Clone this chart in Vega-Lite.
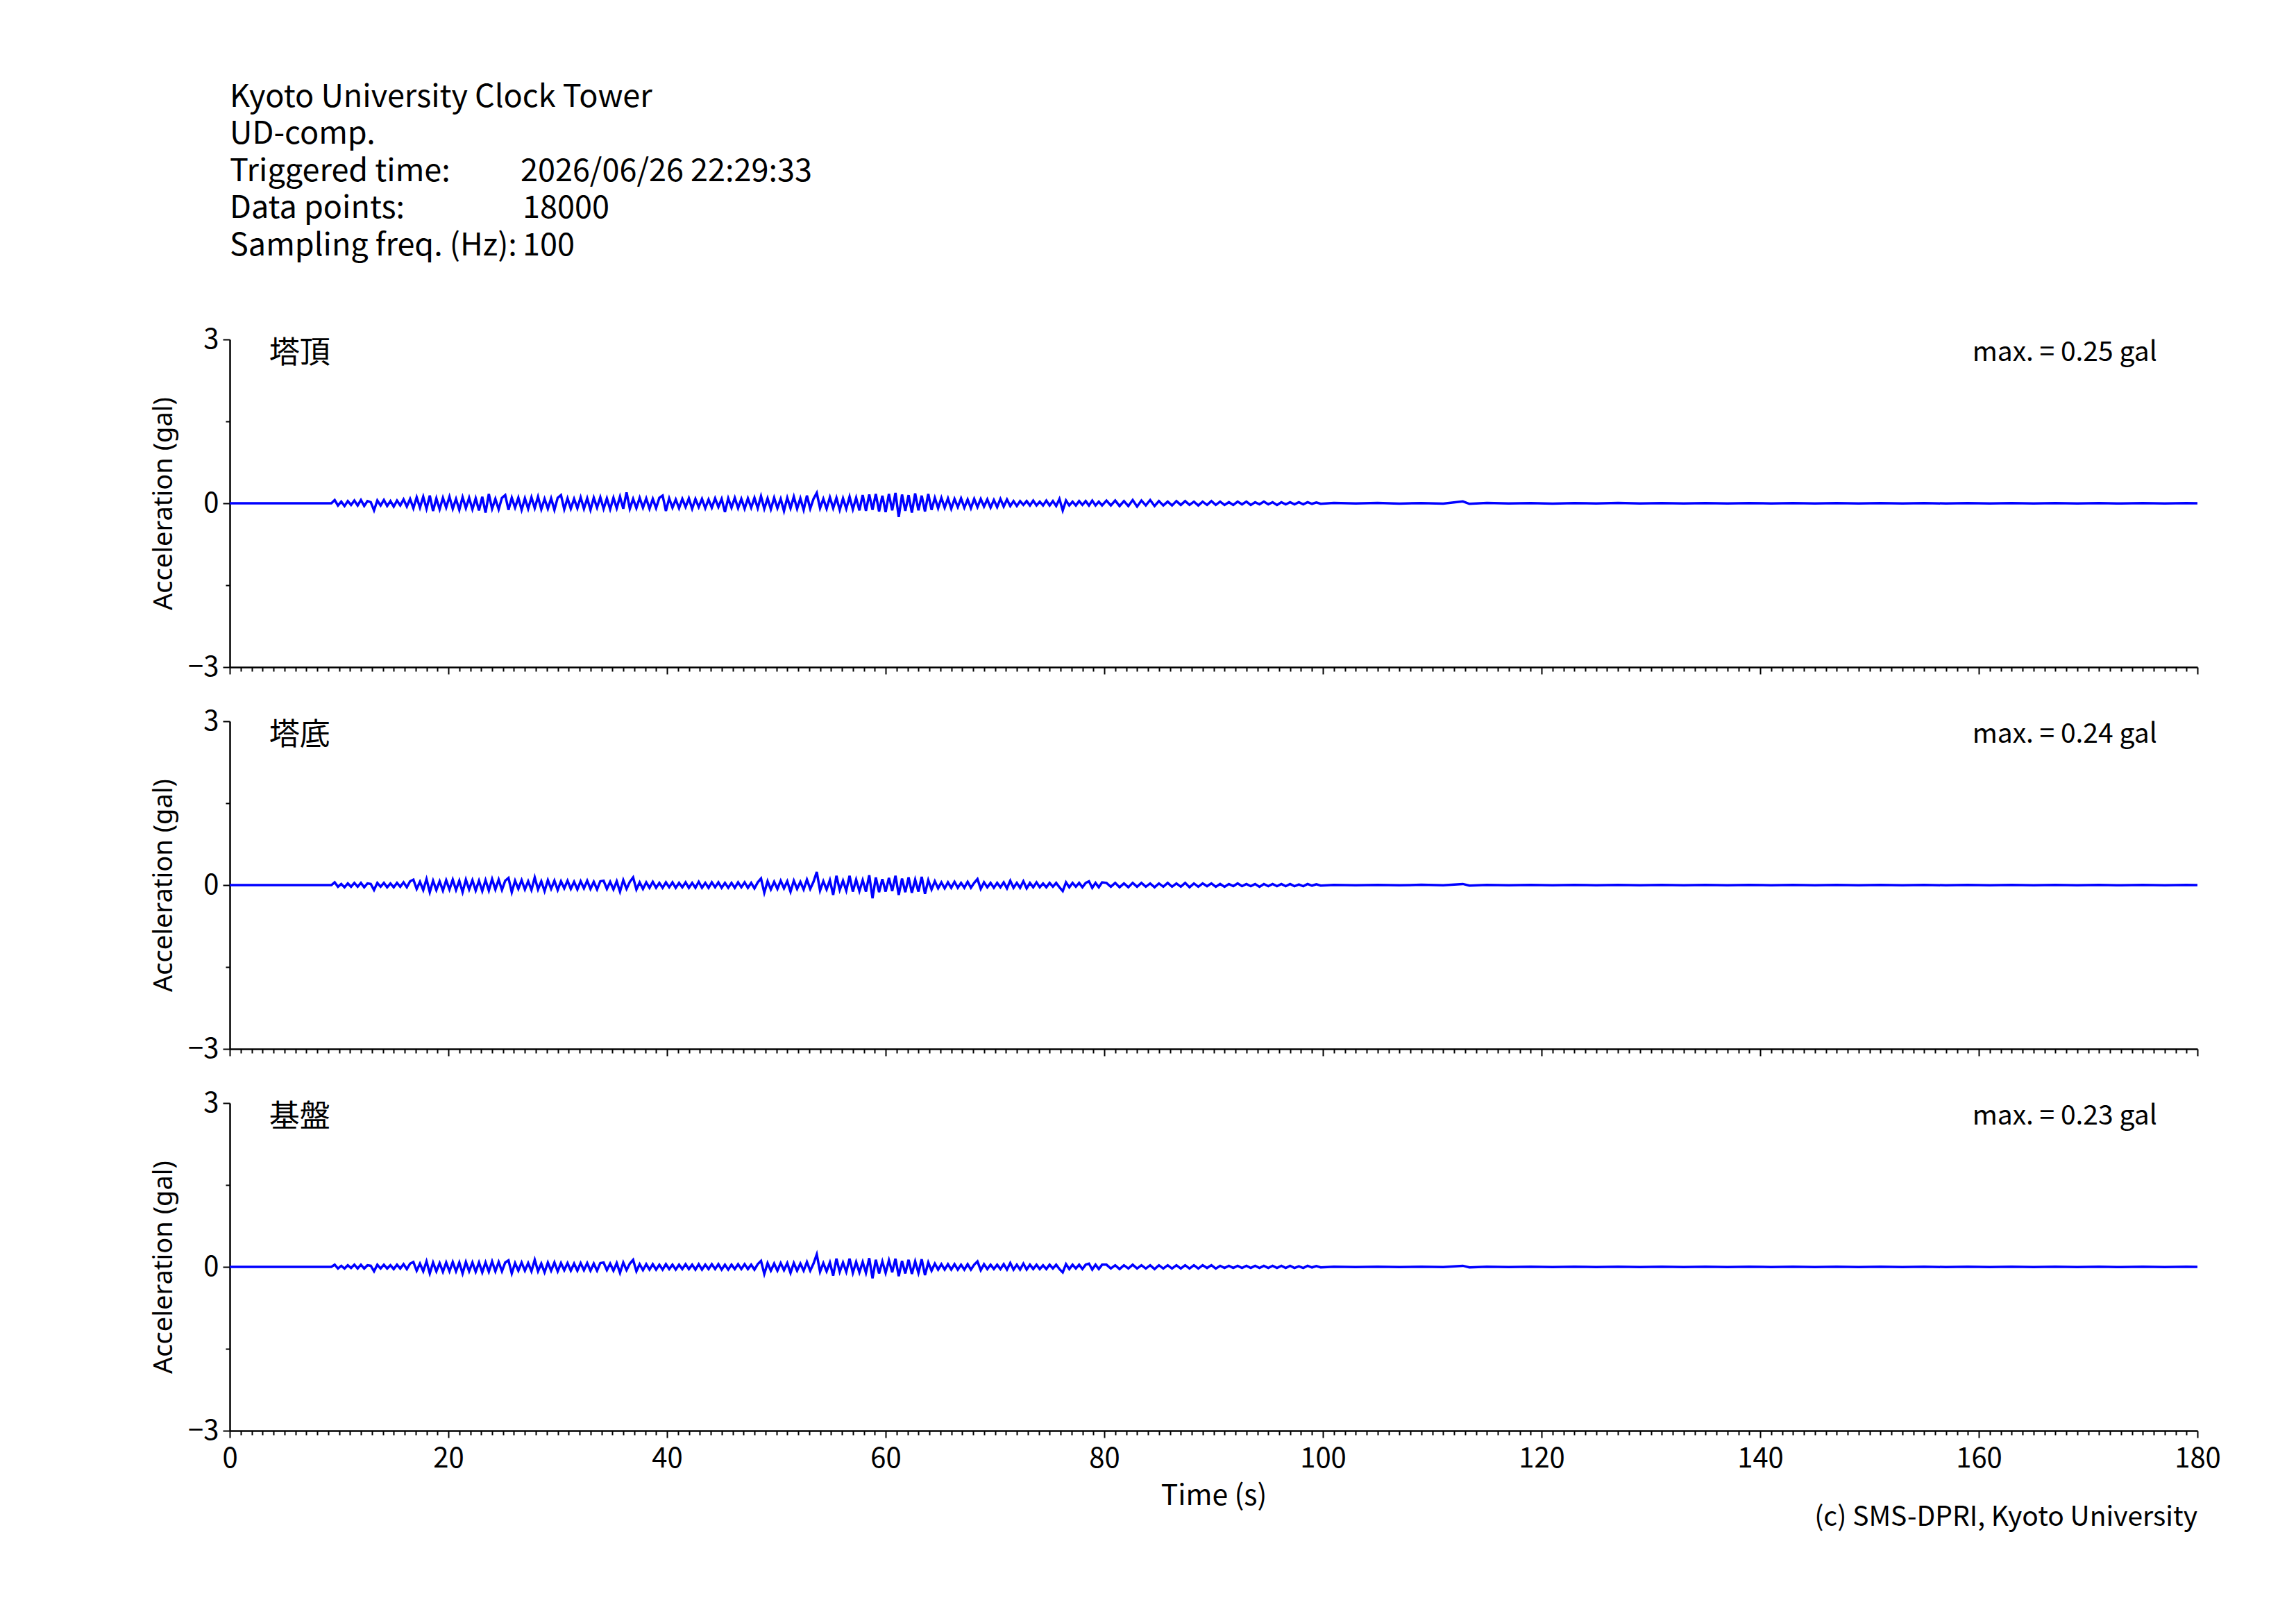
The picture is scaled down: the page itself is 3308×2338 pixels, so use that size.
{
"$schema": "https://vega.github.io/schema/vega-lite/v6.json",
"background": "white",
"padding": {"left": 217, "top": 10, "right": 20, "bottom": 10},
"bounds": "flush",
"spacing": 78,
"config": {
  "view": {"stroke": "transparent"},
  "font": "Noto Sans CJK JP",
  "axis": {"grid": false, "domainColor": "black", "domainWidth": 2.5, "tickColor": "black", "tickWidth": 2, "labelColor": "black", "labelFont": "Noto Sans CJK JP", "labelFontSize": 40, "titleFont": "Noto Sans CJK JP", "titleFontSize": 41, "titleColor": "black", "titleFontWeight": "normal", "labelOverlap": false, "labelFlush": false}
},
"datasets": {
"w": [
{"t":0,"a":0,"b":0,"c":0},
{"t":9.3,"a":0,"b":0,"c":0},
{"t":9.6,"a":0.06,"b":0.05,"c":0.04},
{"t":9.9,"a":-0.04,"b":-0.03,"c":-0.03},
{"t":10.2,"a":0.03,"b":0.02,"c":0.02},
{"t":10.5,"a":-0.05,"b":-0.04,"c":-0.03},
{"t":10.8,"a":0.04,"b":0.03,"c":0.03},
{"t":11.1,"a":-0.03,"b":-0.03,"c":-0.02},
{"t":11.4,"a":0.05,"b":0.04,"c":0.04},
{"t":11.7,"a":-0.04,"b":-0.03,"c":-0.03},
{"t":12.0,"a":0.06,"b":0.04,"c":0.04},
{"t":12.3,"a":-0.05,"b":-0.04,"c":-0.03},
{"t":12.6,"a":0.04,"b":0.03,"c":0.03},
{"t":12.9,"a":0.02,"b":0.02,"c":0.02},
{"t":13.2,"a":-0.13,"b":-0.09,"c":-0.08},
{"t":13.5,"a":0.05,"b":0.04,"c":0.04},
{"t":13.8,"a":-0.04,"b":-0.03,"c":-0.03},
{"t":14.1,"a":0.06,"b":0.04,"c":0.04},
{"t":14.4,"a":-0.05,"b":-0.04,"c":-0.03},
{"t":14.7,"a":0.04,"b":0.03,"c":0.03},
{"t":15.0,"a":-0.06,"b":-0.04,"c":-0.04},
{"t":15.3,"a":0.05,"b":0.04,"c":0.04},
{"t":15.6,"a":-0.04,"b":-0.03,"c":-0.03},
{"t":15.9,"a":0.07,"b":0.05,"c":0.05},
{"t":16.2,"a":-0.06,"b":-0.04,"c":-0.04},
{"t":16.5,"a":0.08,"b":0.07,"c":0.06},
{"t":16.8,"a":-0.09,"b":0.1,"c":0.09},
{"t":17.1,"a":0.11,"b":-0.07,"c":-0.07},
{"t":17.4,"a":-0.08,"b":0.06,"c":0.06},
{"t":17.7,"a":0.12,"b":-0.09,"c":-0.08},
{"t":18.0,"a":-0.1,"b":0.11,"c":0.1},
{"t":18.3,"a":0.14,"b":-0.13,"c":-0.12},
{"t":18.6,"a":-0.14,"b":0.08,"c":0.08},
{"t":18.9,"a":0.09,"b":-0.09,"c":-0.08},
{"t":19.2,"a":-0.11,"b":0.07,"c":0.07},
{"t":19.5,"a":0.1,"b":-0.1,"c":-0.09},
{"t":19.8,"a":-0.08,"b":0.09,"c":0.08},
{"t":20.1,"a":0.12,"b":-0.08,"c":-0.08},
{"t":20.4,"a":-0.1,"b":0.1,"c":0.09},
{"t":20.7,"a":0.08,"b":-0.09,"c":-0.08},
{"t":21.0,"a":-0.12,"b":0.08,"c":0.08},
{"t":21.3,"a":0.11,"b":-0.13,"c":-0.12},
{"t":21.6,"a":-0.09,"b":0.1,"c":0.09},
{"t":21.9,"a":0.1,"b":-0.08,"c":-0.08},
{"t":22.2,"a":-0.11,"b":0.09,"c":0.08},
{"t":22.5,"a":0.09,"b":-0.1,"c":-0.09},
{"t":22.8,"a":-0.13,"b":0.08,"c":0.08},
{"t":23.1,"a":0.12,"b":-0.11,"c":-0.1},
{"t":23.4,"a":-0.17,"b":0.09,"c":0.08},
{"t":23.7,"a":0.17,"b":-0.1,"c":-0.09},
{"t":24.0,"a":-0.1,"b":0.11,"c":0.1},
{"t":24.3,"a":0.08,"b":-0.08,"c":-0.08},
{"t":24.6,"a":-0.11,"b":0.1,"c":0.09},
{"t":24.9,"a":0.1,"b":-0.09,"c":-0.08},
{"t":25.2,"a":0.15,"b":0.08,"c":0.08},
{"t":25.5,"a":-0.12,"b":0.13,"c":0.12},
{"t":25.8,"a":0.1,"b":-0.13,"c":-0.12},
{"t":26.1,"a":-0.08,"b":0.08,"c":0.07},
{"t":26.4,"a":0.1,"b":-0.07,"c":-0.07},
{"t":26.7,"a":-0.12,"b":0.09,"c":0.08},
{"t":27.0,"a":0.09,"b":-0.08,"c":-0.07},
{"t":27.3,"a":-0.1,"b":0.07,"c":0.07},
{"t":27.6,"a":0.11,"b":-0.09,"c":-0.08},
{"t":27.9,"a":-0.09,"b":0.14,"c":0.13},
{"t":28.2,"a":0.12,"b":-0.08,"c":-0.08},
{"t":28.5,"a":-0.11,"b":0.07,"c":0.06},
{"t":28.8,"a":0.08,"b":-0.11,"c":-0.1},
{"t":29.1,"a":-0.1,"b":0.09,"c":0.08},
{"t":29.4,"a":0.09,"b":-0.07,"c":-0.07},
{"t":29.7,"a":-0.12,"b":0.08,"c":0.08},
{"t":30.0,"a":0.1,"b":-0.09,"c":-0.08},
{"t":30.3,"a":0.15,"b":0.07,"c":0.07},
{"t":30.6,"a":-0.11,"b":-0.06,"c":-0.06},
{"t":30.9,"a":0.09,"b":0.08,"c":0.07},
{"t":31.2,"a":-0.1,"b":-0.07,"c":-0.07},
{"t":31.5,"a":0.08,"b":0.06,"c":0.06},
{"t":31.8,"a":-0.09,"b":-0.08,"c":-0.07},
{"t":32.1,"a":0.11,"b":0.07,"c":0.07},
{"t":32.4,"a":-0.1,"b":-0.06,"c":-0.06},
{"t":32.7,"a":0.09,"b":0.08,"c":0.07},
{"t":33.0,"a":-0.12,"b":-0.07,"c":-0.07},
{"t":33.3,"a":0.1,"b":0.06,"c":0.06},
{"t":33.6,"a":-0.08,"b":-0.08,"c":-0.07},
{"t":33.9,"a":0.11,"b":0.07,"c":0.07},
{"t":34.2,"a":-0.1,"b":0.08,"c":0.08},
{"t":34.5,"a":0.09,"b":-0.07,"c":-0.06},
{"t":34.8,"a":-0.11,"b":0.06,"c":0.06},
{"t":35.1,"a":0.1,"b":-0.08,"c":-0.07},
{"t":35.4,"a":-0.09,"b":0.07,"c":0.07},
{"t":35.7,"a":0.12,"b":-0.12,"c":-0.11},
{"t":36.0,"a":-0.1,"b":0.09,"c":0.08},
{"t":36.3,"a":0.2,"b":-0.07,"c":-0.06},
{"t":36.6,"a":-0.1,"b":0.06,"c":0.06},
{"t":36.9,"a":0.08,"b":0.14,"c":0.13},
{"t":37.2,"a":-0.09,"b":-0.08,"c":-0.08},
{"t":37.5,"a":0.1,"b":0.05,"c":0.05},
{"t":37.8,"a":-0.08,"b":-0.07,"c":-0.06},
{"t":38.1,"a":0.09,"b":0.05,"c":0.05},
{"t":38.4,"a":-0.1,"b":-0.05,"c":-0.05},
{"t":38.7,"a":0.08,"b":0.06,"c":0.05},
{"t":39.0,"a":-0.09,"b":-0.05,"c":-0.05},
{"t":39.3,"a":0.1,"b":0.04,"c":0.04},
{"t":39.6,"a":0.14,"b":-0.05,"c":-0.05},
{"t":39.9,"a":-0.14,"b":0.05,"c":0.05},
{"t":40.2,"a":0.09,"b":-0.04,"c":-0.04},
{"t":40.5,"a":-0.08,"b":0.05,"c":0.04},
{"t":40.8,"a":0.07,"b":-0.05,"c":-0.05},
{"t":41.1,"a":-0.09,"b":0.04,"c":0.04},
{"t":41.4,"a":0.08,"b":-0.04,"c":-0.04},
{"t":41.7,"a":-0.07,"b":0.05,"c":0.05},
{"t":42.0,"a":0.09,"b":-0.05,"c":-0.04},
{"t":42.3,"a":-0.1,"b":0.04,"c":0.04},
{"t":42.6,"a":0.08,"b":-0.05,"c":-0.05},
{"t":42.9,"a":-0.07,"b":0.06,"c":0.05},
{"t":43.2,"a":0.08,"b":-0.05,"c":-0.05},
{"t":43.5,"a":-0.09,"b":0.04,"c":0.04},
{"t":43.8,"a":0.07,"b":-0.05,"c":-0.04},
{"t":44.1,"a":-0.08,"b":0.05,"c":0.05},
{"t":44.4,"a":0.09,"b":-0.04,"c":-0.04},
{"t":44.7,"a":-0.07,"b":0.05,"c":0.05},
{"t":45.0,"a":0.08,"b":-0.05,"c":-0.05},
{"t":45.3,"a":-0.16,"b":0.04,"c":0.04},
{"t":45.6,"a":0.09,"b":-0.05,"c":-0.05},
{"t":45.9,"a":-0.08,"b":0.04,"c":0.04},
{"t":46.2,"a":0.1,"b":-0.05,"c":-0.04},
{"t":46.5,"a":-0.09,"b":0.05,"c":0.05},
{"t":46.8,"a":0.08,"b":-0.04,"c":-0.04},
{"t":47.1,"a":-0.1,"b":0.05,"c":0.05},
{"t":47.4,"a":0.09,"b":-0.05,"c":-0.04},
{"t":47.7,"a":-0.08,"b":0.04,"c":0.04},
{"t":48.0,"a":0.1,"b":-0.06,"c":-0.05},
{"t":48.3,"a":-0.09,"b":0.05,"c":0.05},
{"t":48.6,"a":0.13,"b":0.12,"c":0.11},
{"t":48.9,"a":-0.1,"b":-0.14,"c":-0.13},
{"t":49.2,"a":0.09,"b":0.07,"c":0.07},
{"t":49.5,"a":-0.11,"b":-0.08,"c":-0.07},
{"t":49.8,"a":0.1,"b":0.06,"c":0.06},
{"t":50.1,"a":-0.09,"b":-0.07,"c":-0.07},
{"t":50.4,"a":0.08,"b":0.08,"c":0.07},
{"t":50.7,"a":-0.14,"b":-0.06,"c":-0.06},
{"t":51.0,"a":0.1,"b":0.07,"c":0.07},
{"t":51.3,"a":-0.09,"b":-0.12,"c":-0.11},
{"t":51.6,"a":0.12,"b":0.08,"c":0.07},
{"t":51.9,"a":-0.1,"b":-0.07,"c":-0.07},
{"t":52.2,"a":0.09,"b":0.06,"c":0.06},
{"t":52.5,"a":-0.12,"b":-0.08,"c":-0.07},
{"t":52.8,"a":0.14,"b":0.1,"c":0.09},
{"t":53.1,"a":-0.1,"b":-0.07,"c":-0.07},
{"t":53.4,"a":0.08,"b":0.06,"c":0.06},
{"t":53.7,"a":0.19,"b":0.24,"c":0.23},
{"t":54.0,"a":-0.09,"b":-0.1,"c":-0.09},
{"t":54.3,"a":0.08,"b":0.07,"c":0.07},
{"t":54.6,"a":-0.1,"b":-0.08,"c":-0.08},
{"t":54.9,"a":0.11,"b":0.09,"c":0.08},
{"t":55.2,"a":-0.09,"b":-0.18,"c":-0.16},
{"t":55.5,"a":0.1,"b":0.17,"c":0.15},
{"t":55.8,"a":-0.12,"b":-0.09,"c":-0.09},
{"t":56.1,"a":0.09,"b":0.08,"c":0.08},
{"t":56.4,"a":-0.1,"b":-0.1,"c":-0.09},
{"t":56.7,"a":0.12,"b":0.17,"c":0.15},
{"t":57.0,"a":-0.11,"b":-0.12,"c":-0.11},
{"t":57.3,"a":0.1,"b":0.1,"c":0.09},
{"t":57.6,"a":-0.13,"b":-0.11,"c":-0.1},
{"t":57.9,"a":0.15,"b":0.09,"c":0.09},
{"t":58.2,"a":-0.14,"b":-0.12,"c":-0.11},
{"t":58.5,"a":0.16,"b":0.18,"c":0.16},
{"t":58.8,"a":-0.12,"b":-0.24,"c":-0.21},
{"t":59.1,"a":0.17,"b":0.14,"c":0.13},
{"t":59.4,"a":-0.15,"b":-0.13,"c":-0.12},
{"t":59.7,"a":0.14,"b":0.11,"c":0.1},
{"t":60.0,"a":-0.16,"b":-0.12,"c":-0.11},
{"t":60.3,"a":0.17,"b":0.13,"c":0.12},
{"t":60.6,"a":-0.13,"b":-0.11,"c":-0.1},
{"t":60.9,"a":0.19,"b":0.17,"c":0.15},
{"t":61.2,"a":-0.25,"b":-0.18,"c":-0.17},
{"t":61.5,"a":0.16,"b":0.12,"c":0.11},
{"t":61.8,"a":-0.14,"b":-0.13,"c":-0.12},
{"t":62.1,"a":0.15,"b":0.14,"c":0.13},
{"t":62.4,"a":-0.17,"b":-0.14,"c":-0.13},
{"t":62.7,"a":0.18,"b":0.1,"c":0.1},
{"t":63.0,"a":-0.13,"b":-0.12,"c":-0.11},
{"t":63.3,"a":0.14,"b":0.15,"c":0.14},
{"t":63.6,"a":-0.15,"b":-0.16,"c":-0.15},
{"t":63.9,"a":0.17,"b":0.09,"c":0.08},
{"t":64.2,"a":-0.12,"b":-0.08,"c":-0.07},
{"t":64.5,"a":0.1,"b":0.07,"c":0.06},
{"t":64.8,"a":-0.09,"b":-0.06,"c":-0.05},
{"t":65.1,"a":0.1,"b":0.05,"c":0.05},
{"t":65.4,"a":-0.08,"b":-0.06,"c":-0.05},
{"t":65.7,"a":0.09,"b":0.05,"c":0.05},
{"t":66.0,"a":-0.1,"b":-0.05,"c":-0.05},
{"t":66.3,"a":0.08,"b":0.06,"c":0.05},
{"t":66.6,"a":-0.07,"b":-0.05,"c":-0.05},
{"t":66.9,"a":0.09,"b":0.04,"c":0.04},
{"t":67.2,"a":-0.08,"b":-0.05,"c":-0.05},
{"t":67.5,"a":0.07,"b":0.06,"c":0.05},
{"t":67.8,"a":-0.09,"b":-0.05,"c":-0.05},
{"t":68.1,"a":0.08,"b":0.04,"c":0.04},
{"t":68.4,"a":-0.07,"b":0.11,"c":0.1},
{"t":68.7,"a":0.08,"b":-0.07,"c":-0.06},
{"t":69.0,"a":-0.06,"b":0.05,"c":0.05},
{"t":69.3,"a":0.07,"b":-0.04,"c":-0.04},
{"t":69.6,"a":-0.08,"b":0.04,"c":0.04},
{"t":69.9,"a":0.06,"b":-0.05,"c":-0.04},
{"t":70.2,"a":-0.07,"b":0.04,"c":0.04},
{"t":70.5,"a":0.08,"b":-0.04,"c":-0.04},
{"t":70.8,"a":-0.06,"b":0.05,"c":0.05},
{"t":71.1,"a":0.07,"b":-0.06,"c":-0.05},
{"t":71.4,"a":-0.05,"b":0.08,"c":0.07},
{"t":71.7,"a":0.04,"b":-0.05,"c":-0.05},
{"t":72.0,"a":-0.05,"b":0.04,"c":0.04},
{"t":72.3,"a":0.04,"b":-0.05,"c":-0.05},
{"t":72.6,"a":-0.03,"b":0.07,"c":0.06},
{"t":72.9,"a":0.04,"b":-0.06,"c":-0.05},
{"t":73.2,"a":-0.04,"b":0.04,"c":0.04},
{"t":73.5,"a":0.05,"b":-0.04,"c":-0.04},
{"t":73.8,"a":-0.04,"b":0.05,"c":0.04},
{"t":74.1,"a":0.03,"b":-0.04,"c":-0.04},
{"t":74.4,"a":-0.04,"b":0.03,"c":0.03},
{"t":74.7,"a":0.05,"b":-0.04,"c":-0.04},
{"t":75.0,"a":-0.04,"b":0.04,"c":0.04},
{"t":75.3,"a":0.04,"b":-0.03,"c":-0.03},
{"t":75.6,"a":-0.05,"b":0.04,"c":0.04},
{"t":75.9,"a":0.08,"b":-0.04,"c":-0.04},
{"t":76.2,"a":-0.13,"b":-0.11,"c":-0.1},
{"t":76.5,"a":0.05,"b":0.05,"c":0.05},
{"t":76.8,"a":-0.04,"b":-0.04,"c":-0.04},
{"t":77.1,"a":0.03,"b":0.04,"c":0.04},
{"t":77.4,"a":-0.04,"b":-0.03,"c":-0.03},
{"t":77.7,"a":0.04,"b":0.04,"c":0.04},
{"t":78.0,"a":-0.03,"b":-0.04,"c":-0.04},
{"t":78.3,"a":0.04,"b":0.04,"c":0.04},
{"t":78.6,"a":-0.04,"b":0.07,"c":0.06},
{"t":78.9,"a":0.05,"b":-0.05,"c":-0.05},
{"t":79.2,"a":-0.04,"b":0.04,"c":0.04},
{"t":79.5,"a":0.03,"b":-0.04,"c":-0.04},
{"t":79.8,"a":-0.04,"b":0.05,"c":0.04},
{"t":80.2,"a":0.05,"b":0.04,"c":0.04},
{"t":80.6,"a":-0.04,"b":-0.03,"c":-0.03},
{"t":81.0,"a":0.05,"b":0.04,"c":0.03},
{"t":81.4,"a":-0.05,"b":-0.04,"c":-0.04},
{"t":81.8,"a":0.04,"b":0.03,"c":0.03},
{"t":82.2,"a":-0.05,"b":-0.04,"c":-0.03},
{"t":82.6,"a":0.06,"b":0.04,"c":0.04},
{"t":83.0,"a":-0.06,"b":-0.03,"c":-0.03},
{"t":83.4,"a":0.05,"b":0.04,"c":0.03},
{"t":83.8,"a":-0.04,"b":-0.03,"c":-0.03},
{"t":84.2,"a":0.06,"b":0.03,"c":0.03},
{"t":84.6,"a":-0.05,"b":-0.04,"c":-0.04},
{"t":85.0,"a":0.04,"b":0.03,"c":0.03},
{"t":85.4,"a":-0.04,"b":-0.03,"c":-0.03},
{"t":85.8,"a":0.03,"b":0.04,"c":0.03},
{"t":86.2,"a":-0.04,"b":-0.03,"c":-0.03},
{"t":86.6,"a":0.04,"b":0.03,"c":0.03},
{"t":87.0,"a":-0.03,"b":-0.03,"c":-0.03},
{"t":87.4,"a":0.04,"b":0.04,"c":0.03},
{"t":87.8,"a":-0.03,"b":-0.04,"c":-0.03},
{"t":88.2,"a":0.03,"b":0.03,"c":0.03},
{"t":88.6,"a":-0.04,"b":-0.03,"c":-0.03},
{"t":89.0,"a":0.03,"b":0.03,"c":0.03},
{"t":89.4,"a":-0.03,"b":-0.02,"c":-0.02},
{"t":89.8,"a":0.04,"b":0.03,"c":0.03},
{"t":90.2,"a":-0.03,"b":-0.03,"c":-0.03},
{"t":90.6,"a":0.03,"b":0.02,"c":0.02},
{"t":91.0,"a":-0.03,"b":-0.03,"c":-0.02},
{"t":91.4,"a":0.02,"b":0.02,"c":0.02},
{"t":91.8,"a":-0.03,"b":-0.02,"c":-0.02},
{"t":92.2,"a":0.03,"b":0.03,"c":0.02},
{"t":92.6,"a":-0.02,"b":-0.02,"c":-0.02},
{"t":93.0,"a":0.03,"b":0.02,"c":0.02},
{"t":93.4,"a":-0.03,"b":-0.02,"c":-0.02},
{"t":93.8,"a":0.02,"b":0.02,"c":0.02},
{"t":94.2,"a":-0.02,"b":-0.03,"c":-0.02},
{"t":94.6,"a":0.03,"b":0.02,"c":0.02},
{"t":95.0,"a":-0.02,"b":-0.02,"c":-0.02},
{"t":95.4,"a":0.02,"b":0.02,"c":0.02},
{"t":95.8,"a":-0.03,"b":-0.02,"c":-0.02},
{"t":96.2,"a":0.02,"b":0.02,"c":0.02},
{"t":96.6,"a":-0.02,"b":-0.02,"c":-0.02},
{"t":97.0,"a":0.02,"b":0.02,"c":0.02},
{"t":97.4,"a":-0.02,"b":-0.02,"c":-0.02},
{"t":97.8,"a":0.02,"b":0.01,"c":0.01},
{"t":98.2,"a":-0.02,"b":-0.02,"c":-0.02},
{"t":98.6,"a":0.02,"b":0.02,"c":0.02},
{"t":99.0,"a":-0.01,"b":-0.01,"c":-0.01},
{"t":99.4,"a":0.015,"b":0.015,"c":0.015},
{"t":99.8,"a":-0.01,"b":-0.01,"c":-0.01},
{"t":101,"a":0.005,"b":0.004,"c":0.004},
{"t":103,"a":-0.004,"b":-0.004,"c":-0.004},
{"t":105,"a":0.005,"b":0.004,"c":0.004},
{"t":107,"a":-0.005,"b":-0.004,"c":-0.004},
{"t":109,"a":0.004,"b":0.005,"c":0.004},
{"t":111,"a":-0.005,"b":-0.004,"c":-0.004},
{"t":112.8,"a":0.035,"b":0.02,"c":0.02},
{"t":113.4,"a":-0.01,"b":-0.01,"c":-0.01},
{"t":115,"a":0.005,"b":0.004,"c":0.004},
{"t":117,"a":-0.004,"b":-0.004,"c":-0.004},
{"t":119,"a":0.004,"b":0.004,"c":0.004},
{"t":121,"a":-0.005,"b":-0.004,"c":-0.004},
{"t":123,"a":0.004,"b":0.004,"c":0.004},
{"t":125,"a":-0.004,"b":-0.004,"c":-0.004},
{"t":127,"a":0.005,"b":0.004,"c":0.004},
{"t":129,"a":-0.004,"b":-0.004,"c":-0.004},
{"t":131,"a":0.004,"b":0.004,"c":0.004},
{"t":133,"a":-0.004,"b":-0.004,"c":-0.004},
{"t":135,"a":0.004,"b":0.004,"c":0.004},
{"t":137,"a":-0.004,"b":-0.004,"c":-0.004},
{"t":139,"a":0.004,"b":0.004,"c":0.004},
{"t":141,"a":-0.004,"b":-0.004,"c":-0.004},
{"t":143,"a":0.004,"b":0.004,"c":0.004},
{"t":145,"a":-0.004,"b":-0.004,"c":-0.004},
{"t":147,"a":0.004,"b":0.004,"c":0.004},
{"t":149,"a":-0.004,"b":-0.004,"c":-0.004},
{"t":151,"a":0.004,"b":0.004,"c":0.004},
{"t":153,"a":-0.004,"b":-0.004,"c":-0.004},
{"t":155,"a":0.004,"b":0.004,"c":0.004},
{"t":157,"a":-0.004,"b":-0.004,"c":-0.004},
{"t":159,"a":0.004,"b":0.004,"c":0.004},
{"t":161,"a":-0.004,"b":-0.004,"c":-0.004},
{"t":163,"a":0.004,"b":0.004,"c":0.004},
{"t":165,"a":-0.004,"b":-0.004,"c":-0.004},
{"t":167,"a":0.004,"b":0.004,"c":0.004},
{"t":169,"a":-0.004,"b":-0.004,"c":-0.004},
{"t":171,"a":0.004,"b":0.004,"c":0.004},
{"t":173,"a":-0.004,"b":-0.004,"c":-0.004},
{"t":175,"a":0.004,"b":0.004,"c":0.004},
{"t":177,"a":-0.004,"b":-0.004,"c":-0.004},
{"t":179,"a":0.004,"b":0.004,"c":0.004},
{"t":180,"a":0,"b":0,"c":0}
]
},
"vconcat": [
{
  "width": 2835, "height": 400,
  "data": {"values": [
    {"line": 1, "col": 0, "txt": "Kyoto University Clock Tower"},
    {"line": 2, "col": 0, "txt": "UD-comp."},
    {"line": 3, "col": 0, "txt": "Triggered time:"},
    {"line": 3, "col": 26.6, "txt": "2026/06/26 22:29:33"},
    {"line": 4, "col": 0, "txt": "Data points:"},
    {"line": 4, "col": 26.8, "txt": "18000"},
    {"line": 5, "col": 0, "txt": "Sampling freq. (Hz):"},
    {"line": 5, "col": 26.8, "txt": "100"}
  ]},
  "mark": {"type": "text", "align": "left", "baseline": "alphabetic", "fontSize": 45, "font": "Noto Sans CJK JP", "color": "black"},
  "encoding": {
    "x": {"field": "col", "type": "quantitative", "scale": {"domain": [0, 180]}, "axis": null},
    "y": {"field": "line", "type": "quantitative", "scale": {"domain": [-1.673, 5.804], "reverse": true}, "axis": null},
    "text": {"field": "txt"}
  }
},
{
  "width": 2835, "height": 472,
  "layer": [
    {
      "data": {"name": "w"},
      "mark": {"type": "line", "color": "#0000ff", "strokeWidth": 3.5},
      "encoding": {
        "x": {"field": "t", "type": "quantitative", "scale": {"domain": [0, 180]},
              "axis": {"title": null, "labels": false, "tickCount": 180, "tickSize": {"condition": {"test": "datum.value % 20 === 0", "value": 10}, "value": 6}}},
        "y": {"field": "a", "type": "quantitative", "scale": {"domain": [-3, 3]},
              "axis": {"title": "Acceleration (gal)", "titleFont": "Noto Sans", "titleFontSize": 38, "titlePadding": 15, "values": [-3, -1.5, 0, 1.5, 3], "format": "~g", "labelPadding": 6, "labelExpr": "abs(datum.value) === 1.5 ? '' : datum.label", "tickSize": {"condition": {"test": "abs(datum.value) === 1.5", "value": 6}, "value": 10}}}
      }
    },
    {
      "data": {"values": [{"l": "塔頂", "m": "max. = 0.25 gal"}]},
      "layer": [
        {"mark": {"type": "text", "align": "left", "baseline": "middle", "fontSize": 44, "color": "black"},
         "encoding": {"x": {"datum": 3.6}, "y": {"datum": 2.73}, "text": {"field": "l"}}},
        {"mark": {"type": "text", "align": "right", "baseline": "middle", "fontSize": 39, "color": "black"},
         "encoding": {"x": {"datum": 176.3}, "y": {"datum": 2.76}, "text": {"field": "m"}}}
      ]
    }
  ]
},
{
  "width": 2835, "height": 472,
  "layer": [
    {
      "data": {"name": "w"},
      "mark": {"type": "line", "color": "#0000ff", "strokeWidth": 3.5},
      "encoding": {
        "x": {"field": "t", "type": "quantitative", "scale": {"domain": [0, 180]},
              "axis": {"title": null, "labels": false, "tickCount": 180, "tickSize": {"condition": {"test": "datum.value % 20 === 0", "value": 10}, "value": 6}}},
        "y": {"field": "b", "type": "quantitative", "scale": {"domain": [-3, 3]},
              "axis": {"title": "Acceleration (gal)", "titleFont": "Noto Sans", "titleFontSize": 38, "titlePadding": 15, "values": [-3, -1.5, 0, 1.5, 3], "format": "~g", "labelPadding": 6, "labelExpr": "abs(datum.value) === 1.5 ? '' : datum.label", "tickSize": {"condition": {"test": "abs(datum.value) === 1.5", "value": 6}, "value": 10}}}
      }
    },
    {
      "data": {"values": [{"l": "塔底", "m": "max. = 0.24 gal"}]},
      "layer": [
        {"mark": {"type": "text", "align": "left", "baseline": "middle", "fontSize": 44, "color": "black"},
         "encoding": {"x": {"datum": 3.6}, "y": {"datum": 2.73}, "text": {"field": "l"}}},
        {"mark": {"type": "text", "align": "right", "baseline": "middle", "fontSize": 39, "color": "black"},
         "encoding": {"x": {"datum": 176.3}, "y": {"datum": 2.76}, "text": {"field": "m"}}}
      ]
    }
  ]
},
{
  "width": 2835, "height": 472,
  "layer": [
    {
      "data": {"name": "w"},
      "mark": {"type": "line", "color": "#0000ff", "strokeWidth": 3.5},
      "encoding": {
        "x": {"field": "t", "type": "quantitative", "scale": {"domain": [0, 180]},
              "axis": {"title": "Time (s)", "titlePadding": 14, "labelPadding": 10, "tickCount": 180, "labelExpr": "datum.value % 20 === 0 ? datum.label : ''", "tickSize": {"condition": {"test": "datum.value % 20 === 0", "value": 10}, "value": 6}}},
        "y": {"field": "c", "type": "quantitative", "scale": {"domain": [-3, 3]},
              "axis": {"title": "Acceleration (gal)", "titleFont": "Noto Sans", "titleFontSize": 38, "titlePadding": 15, "values": [-3, -1.5, 0, 1.5, 3], "format": "~g", "labelPadding": 6, "labelExpr": "abs(datum.value) === 1.5 ? '' : datum.label", "tickSize": {"condition": {"test": "abs(datum.value) === 1.5", "value": 6}, "value": 10}}}
      }
    },
    {
      "data": {"values": [{"l": "基盤", "m": "max. = 0.23 gal", "cp": "(c) SMS-DPRI, Kyoto University"}]},
      "layer": [
        {"mark": {"type": "text", "align": "left", "baseline": "middle", "fontSize": 44, "color": "black"},
         "encoding": {"x": {"datum": 3.6}, "y": {"datum": 2.73}, "text": {"field": "l"}}},
        {"mark": {"type": "text", "align": "right", "baseline": "middle", "fontSize": 39, "color": "black"},
         "encoding": {"x": {"datum": 176.3}, "y": {"datum": 2.76}, "text": {"field": "m"}}},
        {"mark": {"type": "text", "align": "right", "baseline": "middle", "fontSize": 39, "color": "black"},
         "encoding": {"x": {"datum": 180}, "y": {"datum": -4.59}, "text": {"field": "cp"}}}
      ]
    }
  ]
}
]
}
